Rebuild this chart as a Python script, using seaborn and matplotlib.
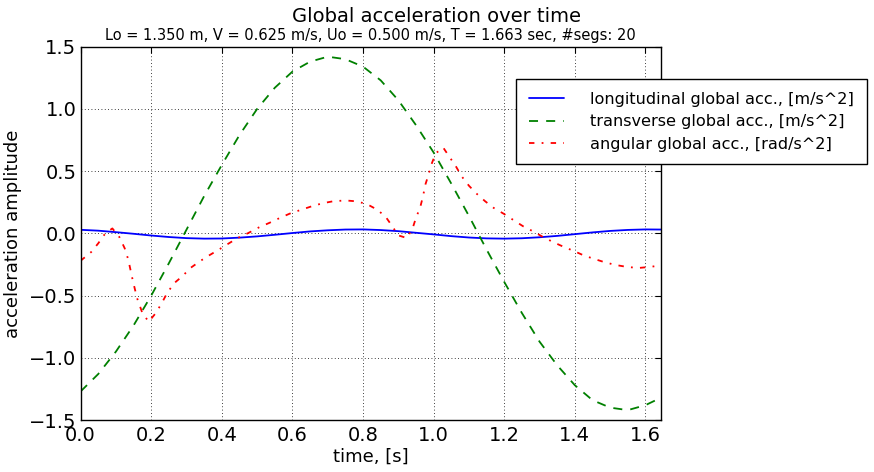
import numpy as np
import pandas as pd
import seaborn as sns
from matplotlib import pyplot as plt

# time grid for longitudinal / transverse signals
t_grid = [0.00, 0.05, 0.10, 0.15, 0.20, 0.25, 0.30, 0.35, 0.40, 0.45,
          0.50, 0.55, 0.60, 0.65, 0.70, 0.75, 0.80, 0.85, 0.90, 0.95,
          1.00, 1.05, 1.10, 1.15, 1.20, 1.25, 1.30, 1.35, 1.40, 1.45,
          1.50, 1.55, 1.60, 1.644]
longitudinal = [0.029, 0.022, 0.010, -0.003, -0.017, -0.029, -0.038, -0.042, -0.041, -0.034,
                -0.024, -0.011, 0.003, 0.016, 0.025, 0.031, 0.032, 0.027, 0.018, 0.005,
                -0.008, -0.022, -0.033, -0.040, -0.042, -0.039, -0.031, -0.020, -0.006, 0.008,
                0.020, 0.028, 0.032, 0.031]
transverse = [-1.27, -1.13, -0.95, -0.74, -0.50, -0.24, 0.03, 0.30, 0.55, 0.79,
              1.00, 1.17, 1.30, 1.38, 1.42, 1.40, 1.34, 1.23, 1.07, 0.87,
              0.65, 0.40, 0.14, -0.13, -0.39, -0.64, -0.87, -1.06, -1.22, -1.34,
              -1.40, -1.42, -1.38, -1.32]

t_ang = [0.000, 0.030, 0.050, 0.070, 0.090, 0.110, 0.125, 0.135, 0.148, 0.160,
         0.175, 0.193, 0.213, 0.230, 0.245, 0.265, 0.290, 0.310, 0.340, 0.365,
         0.393, 0.420, 0.445, 0.475, 0.505, 0.535, 0.565, 0.595, 0.625, 0.655,
         0.685, 0.715, 0.750, 0.780, 0.810, 0.838, 0.863, 0.880, 0.900, 0.924,
         0.940, 0.950, 0.962, 0.970, 0.977, 0.986, 0.995, 1.006, 1.027, 1.045,
         1.064, 1.079, 1.100, 1.121, 1.146, 1.170, 1.199, 1.225, 1.253, 1.282,
         1.310, 1.338, 1.369, 1.397, 1.426, 1.457, 1.487, 1.518, 1.551, 1.583,
         1.617, 1.644]
angular = [-0.22, -0.15, -0.08, 0.00, 0.04, -0.03, -0.12, -0.21, -0.38, -0.52,
           -0.64, -0.71, -0.64, -0.56, -0.48, -0.40, -0.34, -0.28, -0.22, -0.175,
           -0.128, -0.08, -0.037, 0.003, 0.048, 0.085, 0.125, 0.162, 0.19, 0.218,
           0.242, 0.258, 0.265, 0.258, 0.237, 0.194, 0.138, 0.069, -0.016, -0.037,
           0.037, 0.125, 0.21, 0.30, 0.396, 0.476, 0.564, 0.644, 0.69, 0.614,
           0.534, 0.46, 0.383, 0.321, 0.258, 0.205, 0.157, 0.109, 0.058, 0.016,
           -0.029, -0.069, -0.109, -0.141, -0.178, -0.207, -0.234, -0.255, -0.271, -0.277,
           -0.268, -0.255]

labels = ['longitudinal global acc., [m/s^2]',
          'transverse global acc., [m/s^2]',
          'angular global acc., [rad/s^2]']

sns.set_style("white")
plt.rcParams['font.family'] = ['DejaVu Sans']
plt.rcParams['xtick.direction'] = 'in'
plt.rcParams['ytick.direction'] = 'in'
for key in ['text.color', 'axes.labelcolor', 'xtick.color', 'ytick.color', 'axes.edgecolor']:
    plt.rcParams[key] = 'k'

fig, ax = plt.subplots(figsize=(8.74, 4.72), dpi=100)
fig.subplots_adjust(left=0.0922, right=0.7563, top=0.901, bottom=0.110)

lw = 1.3
sns.lineplot(x=t_grid, y=longitudinal, color='b', lw=lw, label=labels[0], ax=ax)
sns.lineplot(x=t_grid, y=transverse, color='g', lw=lw, linestyle=(0, (5, 4.5)),
             label=labels[1], ax=ax)
sns.lineplot(x=t_ang, y=angular, color='r', lw=lw, linestyle=(0, (3, 4, 1, 4)),
             label=labels[2], ax=ax)

ax.set_xlim(0, 1.644)
ax.set_ylim(-1.5, 1.5)
ax.set_xticks(np.arange(0, 1.61, 0.2))
ax.set_yticks([-1.5, -1.0, -0.5, 0.0, 0.5, 1.0, 1.5])
ax.set_yticklabels(['\u22121.5', '\u22121.0', '\u22120.5', '0.0', '0.5', '1.0', '1.5'])
ax.tick_params(labelsize=14, length=4, width=0.8, top=True, right=True,
               color='k', labelcolor='k', pad=3)
ax.tick_params(axis='x', pad=4)
ax.grid(True, color='k', linestyle=(0, (1, 3)), lw=0.6)
for s in ax.spines.values():
    s.set_color('k')
    s.set_linewidth(1.0)

ax.set_xlabel('time, [s]', fontsize=13, labelpad=2, color='k')
ax.set_ylabel('acceleration amplitude', fontsize=13, labelpad=5, color='k')
ax.set_title('Lo = 1.350 m, V = 0.625 m/s, Uo = 0.500 m/s, T = 1.663 sec, #segs: 20',
             fontsize=10.5, pad=5, color='k')
fig.suptitle('Global acceleration over time', fontsize=14, y=0.985, color='k')

leg = ax.legend(loc='upper left', bbox_to_anchor=(0.75, 0.913), borderaxespad=0,
                fontsize=11.6, frameon=True, fancybox=False, handlelength=2.2,
                handletextpad=1.6, labelspacing=0.45, borderpad=0.8, labelcolor='k')
leg.get_frame().set_edgecolor('k')
leg.get_frame().set_linewidth(1.0)
leg.get_frame().set_alpha(1)

plt.savefig('out.png', dpi=100)
